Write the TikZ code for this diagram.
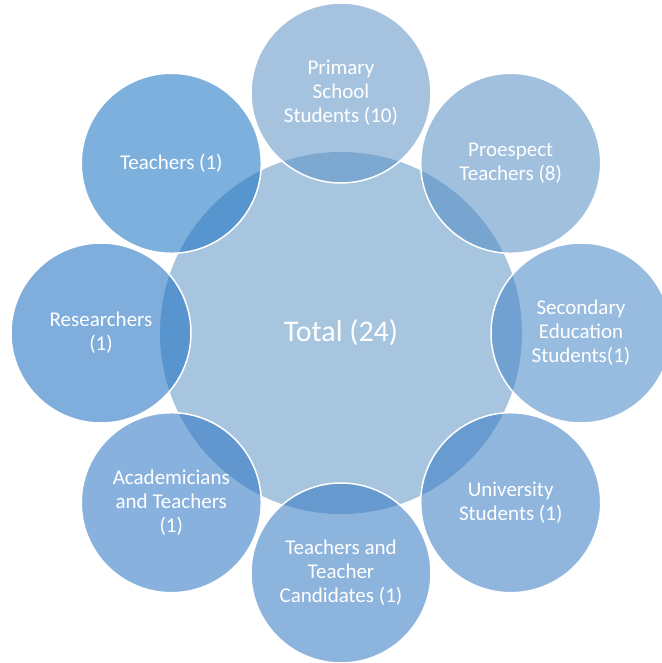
\documentclass[tikz,border=0pt]{standalone}
\usepackage{fontspec}
\setmainfont{Carlito}
\definecolor{totalblue}{RGB}{168,197,223}
\definecolor{primblue}{RGB}{91,146,197}
\definecolor{prosblue}{RGB}{82,140,195}
\definecolor{secblue}{RGB}{66,133,197}
\definecolor{unistudblue}{RGB}{53,122,195}
\definecolor{candblue}{RGB}{48,119,193}
\definecolor{acadblue}{RGB}{39,115,193}
\definecolor{resblue}{RGB}{24,108,191}
\definecolor{teachblue}{RGB}{19,111,191}
\tikzset{
  total/.style={circle, fill=totalblue, minimum size=362pt, inner sep=0pt,
    text=white, font=\fontsize{30}{34}\selectfont},
  outer/.style={circle, draw=white, line width=1.5pt, minimum size=180pt,
    inner sep=0pt, fill opacity=0.55, text opacity=1, text=white,
    align=center, font=\fontsize{21}{24}\selectfont}
}
\begin{document}
\begin{tikzpicture}[x=1pt, y=1pt]
  \useasboundingbox (-341,-330) rectangle (320,333);
  \node[total] (T) at (0,0) {Total (24)};

  \node[outer, fill=primblue] (P) at (90:240) {Primary\\School\\Students (10)};
  \node[outer, fill=prosblue] (PT) at (45:240) {Proespect\\Teachers (8)};
  \node[outer, fill=secblue] (SE) at (0:240) {Secondary\\Education\\Students(1)};
  \node[outer, fill=unistudblue] (U) at (-45:240) {University\\Students (1)};
  \node[outer, fill=candblue] (TC) at (-90:240) {Teachers and\\Teacher\\Candidates (1)};
  \node[outer, fill=acadblue] (AT) at (-135:240) {Academicians\\and Teachers\\(1)};
  \node[outer, fill=resblue] (R) at (180:240) {Researchers\\(1)};
  \node[outer, fill=teachblue] (Te) at (135:240) {Teachers (1)};
\end{tikzpicture}
\end{document}
